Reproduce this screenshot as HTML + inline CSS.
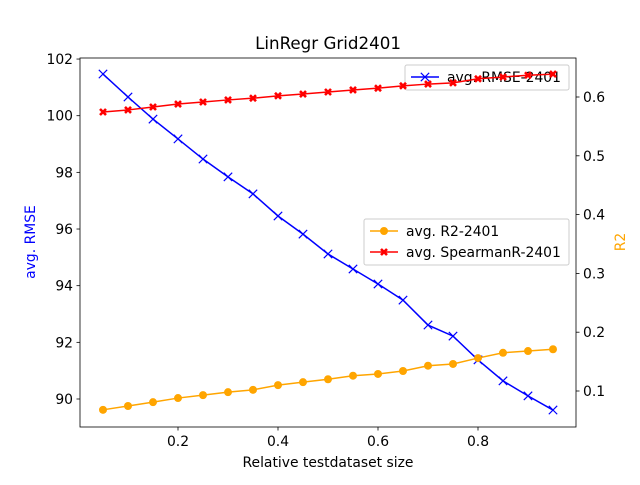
<!DOCTYPE html>
<html><head><meta charset="utf-8"><style>
body{margin:0;background:#fff;}
svg{font-family:"DejaVu Sans","Liberation Sans",sans-serif;}
</style></head><body>
<svg id="chart" width="640" height="480" xmlns="http://www.w3.org/2000/svg"></svg>
<script>
const xVals=[0.05,0.1,0.15,0.2,0.25,0.3,0.35,0.4,0.45,0.5,0.55,0.6,0.65,0.7,0.75,0.8,0.85,0.9,0.95];
const rmse=[101.47,100.66,99.88,99.18,98.47,97.84,97.24,96.46,95.82,95.12,94.59,94.06,93.49,92.61,92.22,91.38,90.64,90.11,89.61];
const r2=[0.068,0.0745,0.081,0.088,0.093,0.098,0.102,0.110,0.115,0.120,0.126,0.129,0.134,0.143,0.146,0.156,0.165,0.168,0.171];
const spearman=[0.5745,0.578,0.583,0.588,0.5915,0.595,0.598,0.602,0.605,0.6085,0.612,0.615,0.619,0.622,0.624,0.631,0.634,0.637,0.639];
const xTicks=[0.2,0.4,0.6,0.8];
const yLeftTicks=[90,92,94,96,98,100,102];
const yRightTicks=[0.1,0.2,0.3,0.4,0.5,0.6];

const L=80,R=576,T=58,B=427;
const sx=v=>178+(v-0.2)*500;
const syL=v=>399-(v-90)*28.33;
const syR=v=>391-(v-0.1)*588;
const svg=document.getElementById('chart');
const NS='http://www.w3.org/2000/svg';
function mk(tag,attrs,parent){const e=document.createElementNS(NS,tag);for(const k in attrs)e.setAttribute(k,attrs[k]);(parent||svg).appendChild(e);return e;}
function txt(s,attrs){const e=mk('text',attrs);e.textContent=s;return e;}

const t=txt('LinRegr Grid2401',{x:328,y:49,'font-size':16.7,'text-anchor':'middle'});



xTicks.forEach(v=>{
  const x=sx(v);
  mk('line',{x1:x,x2:x,y1:B,y2:B+3.5,stroke:'#000','stroke-width':0.8});
  const e=txt(v.toFixed(1),{x:x,y:B+19,'font-size':13.9,'text-anchor':'middle'});
  
  
});
yLeftTicks.forEach(v=>{
  const y=syL(v);
  mk('line',{x1:L-3.5,x2:L,y1:y,y2:y,stroke:'#000','stroke-width':0.8});
  const e=txt(String(v),{x:L-7,y:y+5,'font-size':13.9,'text-anchor':'end'});
  
  
});
yRightTicks.forEach(v=>{
  const y=syR(v);
  mk('line',{x1:R,x2:R+3.5,y1:y,y2:y,stroke:'#000','stroke-width':0.8});
  const e=txt(v.toFixed(1),{x:R+7,y:y+5,'font-size':13.9});
  
  
});
const xl=txt('Relative testdataset size',{x:328,y:467,'font-size':13.9,'text-anchor':'middle'});


const yl=txt('avg. RMSE',{x:0,y:0,'font-size':13.9,'text-anchor':'middle',fill:'blue',transform:'translate(35,242) rotate(-90)'});


const yr=txt('R2',{x:0,y:0,'font-size':13.9,'text-anchor':'middle',fill:'orange',transform:'translate(625,242) rotate(-90)'});



function series(vals,sy,color,marker,name){
  const g=mk('g',{});
  
  
  mk('polyline',{points:vals.map((v,i)=>sx(xVals[i])+','+sy(v)).join(' '),fill:'none',stroke:color,'stroke-width':1.5},g);
  vals.forEach((v,i)=>drawMarker(g,sx(xVals[i]),sy(v),color,marker));
}
function drawMarker(g,x,y,color,marker){
  if(marker==='x'){
    mk('path',{d:`M${x-4.2},${y-4.2}L${x+4.2},${y+4.2}M${x-4.2},${y+4.2}L${x+4.2},${y-4.2}`,stroke:color,'stroke-width':1.2},g);
  }else if(marker==='o'){
    mk('circle',{cx:x,cy:y,r:4,fill:color},g);
  }else{
    mk('path',{d:`M${x-3},${y-3}L${x+3},${y+3}M${x-3},${y+3}L${x+3},${y-3}`,stroke:color,'stroke-width':2.6},g);
  }
}
function legend(x,y,w,h,entries,name){
  const g=mk('g',{});
  
  
  mk('rect',{x:x,y:y,width:w,height:h,rx:2,fill:'rgba(255,255,255,0.8)',stroke:'#ccc'},g);
  entries.forEach((en,i)=>{
    const cy=y+12+i*21;
    mk('line',{x1:x+6,x2:x+34,y1:cy,y2:cy,stroke:en[1],'stroke-width':1.5},g);
    drawMarker(g,x+20,cy,en[1],en[2]);
    const tt=mk('text',{x:x+42,y:cy+5,'font-size':13.9},g);tt.textContent=en[0];
  });
}
series(rmse,syL,'blue','x','rmse-series');
legend(405,65,164,25,[['avg. RMSE-2401','blue','x']],'legend-rmse');
series(r2,syR,'orange','o','r2-series');
series(spearman,syR,'red','X','spearman-series');

mk('rect',{x:L,y:T,width:R-L,height:B-T,fill:'none',stroke:'#000','stroke-width':0.8});
legend(364,219,205,46,[['avg. R2-2401','orange','o'],['avg. SpearmanR-2401','red','X']],'legend-right');
</script>
</body></html>
